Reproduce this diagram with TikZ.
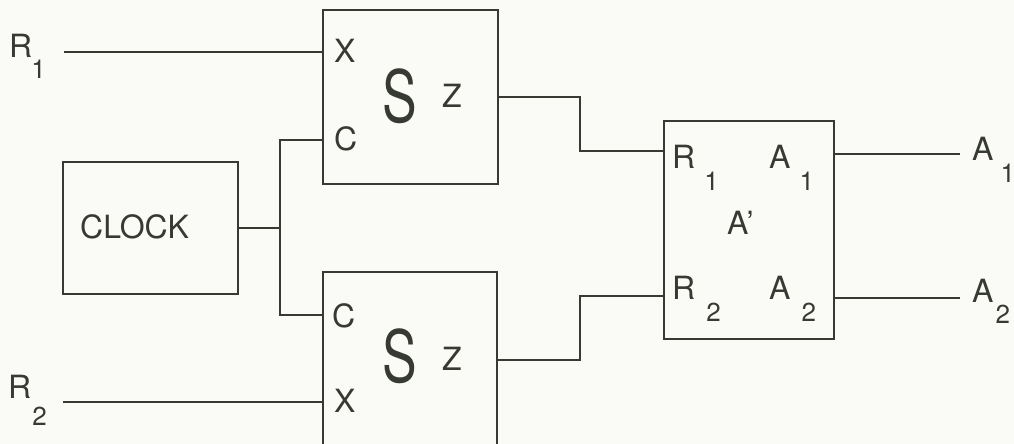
\documentclass[tikz,border=0pt]{standalone}
\usepackage{fontspec}
\setmainfont{TeX Gyre Heros}
\usepackage{graphicx}
\definecolor{ink}{RGB}{55,58,50}
\definecolor{paper}{RGB}{250,250,247}
\newcommand\lsub[3]{\kern#1pt\raisebox{-#2pt}{\fontsize{26}{26}\selectfont #3}}
\begin{document}
\begin{tikzpicture}[x=1pt,y=-1pt,
  box/.style={draw=ink, line width=2.2pt, rectangle, inner sep=0pt},
  wire/.style={draw=ink, line width=2.2pt},
  lbl/.style={inner sep=0pt, anchor=base west, text=ink, font=\fontsize{32}{32}\selectfont},
  big/.style={inner sep=0pt, text=ink, font=\fontsize{72}{72}\selectfont}]
\fill[paper] (0,0) rectangle (1014,444);
\useasboundingbox (0,0) rectangle (1014,444);
\clip (0,0) rectangle (1014,444);
% blocks
\node[box, minimum width=175pt, minimum height=174pt] (S1) at (410.5,97) {};
\node[box, minimum width=174pt, minimum height=174pt] (S2) at (410,359) {};
\node[box, minimum width=175pt, minimum height=132pt] (clk) at (150.5,228) {};
\node[box, minimum width=170pt, minimum height=218pt] (A) at (749,230) {};
% wires
\coordinate (r1) at (64,52);
\coordinate (r2) at (63,402);
\draw[wire] (r1) -- (r1 -| S1.west);
\draw[wire] (r2) -- (r2 -| S2.west);
\coordinate (jt) at (280,140);
\coordinate (jb) at (280,315);
\draw[wire] (clk.east) -- (clk.east -| jt);
\draw[wire] (S1.west |- jt) -- (jt) -- (jb) -- (S2.west |- jb);
\coordinate (z1) at (580,97);
\coordinate (a1in) at (580,151);
\draw[wire] (S1.east |- z1) -- (z1) -- (a1in) -- (A.west |- a1in);
\coordinate (z2) at (580,360);
\coordinate (a2in) at (580,296);
\draw[wire] (S2.east |- z2) -- (z2) -- (a2in) -- (A.west |- a2in);
\coordinate (o1) at (960,154);
\coordinate (o2) at (960,298);
\draw[wire] (A.east |- o1) -- (o1);
\draw[wire] (A.east |- o2) -- (o2);
% labels
\node[lbl] (lR1) at (9,57) {R\lsub{-1}{21}{1}};
\node[lbl] (lR2) at (8,398) {R\lsub{1}{27}{2}};
\node[lbl] (clktxt) at (80,238) {CLOCK};
\node[lbl] (x1) at (334,63) {X};
\node[lbl] (c1) at (334,150) {C};
\node[lbl] (c2) at (332,327) {C};
\node[lbl] (x2) at (334,412) {X};
\node[big] (s1) at (400,96) {\scalebox{0.72}[1]{S}};
\node[big] (s2) at (400,356) {\scalebox{0.72}[1]{S}};
\node[lbl] (zz1) at (442,107) {Z};
\node[lbl] (zz2) at (442,370) {Z};
\node[lbl] (ir1) at (672,168) {R\lsub{9}{22}{1}};
\node[lbl] (ia1) at (769,168) {A\lsub{9}{22}{1}};
\node[lbl] (iap) at (727,234) {A'};
\node[lbl] (ir2) at (672,299) {R\lsub{11}{22}{2}};
\node[lbl] (ia2) at (769,299) {A\lsub{11}{22}{2}};
\node[lbl] (oa1) at (972,160) {A\lsub{7}{22}{1}};
\node[lbl] (oa2) at (972,302) {A\lsub{2}{21}{2}};
\end{tikzpicture}
\end{document}
